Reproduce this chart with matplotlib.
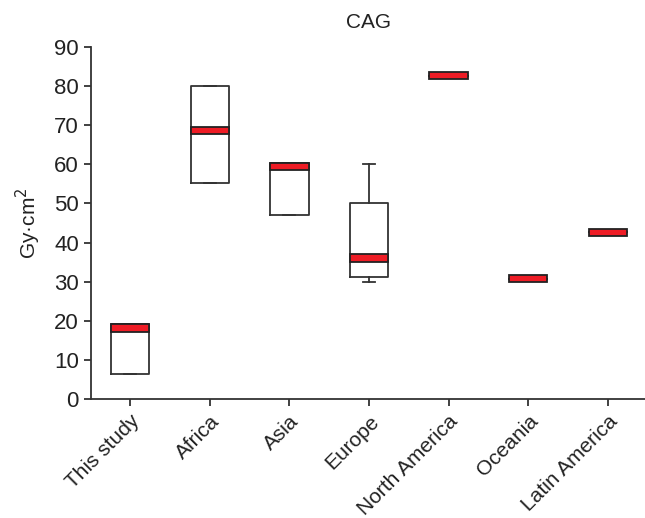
import matplotlib
matplotlib.use("Agg")
import matplotlib.pyplot as plt

plt.rcParams['font.family'] = ['Liberation Sans', 'DejaVu Sans']

groups = ["This study", "Africa", "Asia", "Europe", "North America", "Oceania", "Latin America"]
q1 = [6.4, 55.1, 47.1, 31.1, 82.7, 30.8, 42.6]
q3 = [19.1, 80.0, 60.4, 50.0, 82.7, 30.8, 42.6]
med = [18.2, 68.6, 59.5, 36.1, 82.7, 30.8, 42.6]
whis_lo = [6.4, 55.1, 47.1, 30.0, 82.7, 30.8, 42.6]
whis_hi = [19.1, 80.0, 60.4, 60.0, 82.7, 30.8, 42.6]
band = 0.95  # half height of the red median band

ink = '#333333'
red = '#ee1c25'

stats = []
for i in range(len(groups)):
    stats.append(dict(label=groups[i], med=med[i], q1=q1[i], q3=q3[i],
                      whislo=whis_lo[i], whishi=whis_hi[i], fliers=[]))

fig = plt.figure(figsize=(6.45, 5.18), dpi=100)
ax = fig.add_axes([0.1416, 0.2297, 0.8584, 0.6796])

pos = list(range(len(groups)))
ax.bxp(stats, positions=pos, widths=0.48, showfliers=False, capwidths=0.15,
       boxprops=dict(color=ink, linewidth=1.3),
       whiskerprops=dict(color=ink, linewidth=1.3),
       capprops=dict(color=ink, linewidth=1.3),
       medianprops=dict(linewidth=0))

# red median bands
ax.bar(pos, [2 * band] * len(pos), bottom=[m - band for m in med], width=0.48,
       color=red, edgecolor='#222222', linewidth=1.3, zorder=3)

ax.set_xlim(-0.49, 6.47)
ax.set_ylim(0, 90)
ax.set_yticks(range(0, 91, 10))
ax.set_xticks(pos)
ax.set_xticklabels(groups, rotation=45, ha='right', rotation_mode='anchor')

for s in ['top', 'right']:
    ax.spines[s].set_visible(False)
for s in ['left', 'bottom']:
    ax.spines[s].set_color(ink)
    ax.spines[s].set_linewidth(1.3)
ax.tick_params(axis='both', direction='out', length=5, width=1.3, color=ink,
               labelcolor='#222222', pad=4)
ax.tick_params(axis='y', labelsize=16)
ax.tick_params(axis='x', labelsize=15)

ax.set_ylabel('Gy·cm$^2$', fontsize=15, color='#222222', labelpad=8)
ax.set_title('CAG', fontsize=15, color='#222222', pad=14)

fig.savefig('out.png', dpi=100)
